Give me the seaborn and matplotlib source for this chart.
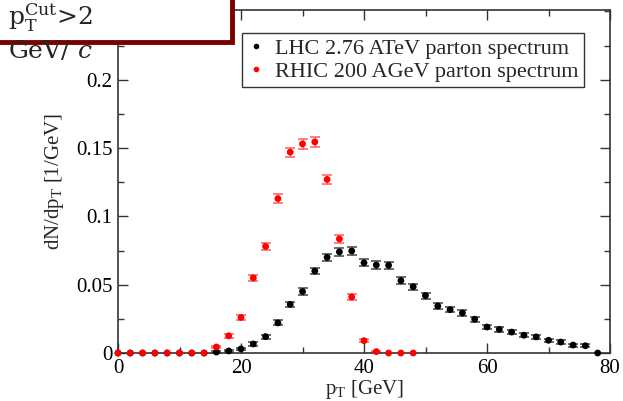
import numpy as np
import pandas as pd
import matplotlib
matplotlib.use("Agg")
import matplotlib.pyplot as plt
import seaborn as sns
from matplotlib.lines import Line2D
from matplotlib.patches import Rectangle
from matplotlib.ticker import MultipleLocator

# ---------------- data ----------------
lhc_pt = [0, 2, 4, 6, 8, 10, 12, 14, 16, 18, 20, 22, 24, 26, 28, 30, 32, 34, 36, 38,
          40, 42, 44, 46, 48, 50, 52, 54, 56, 58, 60, 62, 64, 66, 68, 70, 72, 74, 76, 78]
lhc_val = [0, 0, 0, 0, 0, 0, 0, 0, 0.0007, 0.0015, 0.003, 0.0066, 0.012, 0.022, 0.0356,
           0.045, 0.060, 0.070, 0.074, 0.0747, 0.066, 0.0644, 0.0642, 0.053, 0.0485,
           0.042, 0.0344, 0.0317, 0.0293, 0.0247, 0.019, 0.0173, 0.0153, 0.013, 0.0118,
           0.0093, 0.008, 0.0058, 0.0053, 0.0]
lhc_err = [0, 0, 0, 0, 0, 0, 0, 0, 0.0005, 0.0007, 0.001, 0.0012, 0.0015, 0.0018, 0.002,
           0.0022, 0.0025, 0.0027, 0.0028, 0.0028, 0.0027, 0.0026, 0.0026, 0.0024, 0.0023,
           0.0022, 0.002, 0.002, 0.0019, 0.0018, 0.0016, 0.0016, 0.0015, 0.0014, 0.0014,
           0.0013, 0.0012, 0.0011, 0.001, 0.0]

rhic_pt = [0, 2, 4, 6, 8, 10, 12, 14, 16, 18, 20, 22, 24, 26, 28, 30, 32, 34, 36, 38,
           40, 42, 44, 46, 48]
rhic_val = [0, 0, 0, 0, 0, 0, 0, 0, 0.0044, 0.0126, 0.026, 0.055, 0.078, 0.113, 0.147,
            0.153, 0.1545, 0.127, 0.0835, 0.041, 0.009, 0.001, 0, 0, 0]
rhic_err = [0, 0, 0, 0, 0, 0, 0, 0, 0.001, 0.0015, 0.0018, 0.002, 0.0025, 0.003, 0.0033,
            0.0035, 0.0035, 0.0032, 0.0028, 0.002, 0.0012, 0.0004, 0, 0, 0]

series_labels = ["LHC 2.76 ATeV parton spectrum", "RHIC 200 AGeV parton spectrum"]
series_colors = ["#000000", "#ff0000"]
err_colors = ["#444444", "#ff5c5c"]
x_ticks = [0, 20, 40, 60, 80]
y_ticks = [0, 0.05, 0.1, 0.15, 0.2]
y_ticklabels = ["0", "0.05", "0.1", "0.15", "0.2"]

df = pd.concat([
    pd.DataFrame({"pt": lhc_pt, "val": lhc_val, "err": lhc_err, "series": series_labels[0]}),
    pd.DataFrame({"pt": rhic_pt, "val": rhic_val, "err": rhic_err, "series": series_labels[1]}),
], ignore_index=True)

# ---------------- style ----------------
sns.set_theme(style="ticks")
plt.rcParams.update({
    "font.family": ["Liberation Serif", "DejaVu Serif"],
    "mathtext.fontset": "custom",
    "mathtext.rm": "Liberation Serif",
    "mathtext.it": "DejaVu Serif:italic",
    "mathtext.default": "regular",
})

W, H = 623, 401
fig = plt.figure(figsize=(W / 100, H / 100), dpi=100)
fig.patch.set_facecolor("white")
ax = fig.add_axes([118 / W, 1 - 353 / H, 492 / W, 343 / H])
ax.set_facecolor("white")

# error bars
for lab, ec in zip(series_labels, err_colors):
    sub = df[df["series"] == lab]
    mask = sub["err"] > 0
    ax.errorbar(sub["pt"][mask], sub["val"][mask], yerr=sub["err"][mask], fmt="none",
                ecolor=ec, elinewidth=1.0, capsize=3.4, capthick=1.1, zorder=2)

sns.scatterplot(data=df, x="pt", y="val", hue="series",
                palette=dict(zip(series_labels, series_colors)),
                s=24, linewidth=0, edgecolor="none", legend=False, ax=ax, zorder=3,
                clip_on=False)

ax.set_xlim(0, 80)
ax.set_ylim(0, 0.251)
ax.set_xticks(x_ticks)
ax.set_yticks(y_ticks)
ax.set_yticklabels(y_ticklabels)
ax.xaxis.set_minor_locator(MultipleLocator(10))
ax.yaxis.set_minor_locator(MultipleLocator(0.025))
ax.tick_params(which="both", direction="in", top=True, right=True, color="#333333",
               width=1.0, labelsize=15, labelcolor="black")
ax.tick_params(which="major", length=7, pad=4)
ax.tick_params(which="minor", length=4)
for sp in ax.spines.values():
    sp.set_color("#333333")
    sp.set_linewidth(1.2)

ax.set_xlabel("p$_T$ [GeV]", fontsize=15, labelpad=0)
ax.set_ylabel("dN/dp$_T$ [1/GeV]", fontsize=15, labelpad=7)

handles = [Line2D([], [], ls="none", marker="o", ms=3, color=c) for c in series_colors]
leg = ax.legend(handles, series_labels, loc="upper left",
                bbox_to_anchor=((242 - 118) / 492, (353 - 33) / 343), borderaxespad=0,
                frameon=True, fancybox=False, fontsize=16, handlelength=0.8,
                handletextpad=0.45, borderpad=0.25, labelspacing=0.1)
leg.get_frame().set_edgecolor("#333333")
leg.get_frame().set_linewidth(1.0)
leg.get_frame().set_alpha(1)

# annotation box at top-left
rect = Rectangle((-0.02, 1 - 42 / H), 232 / W + 0.02, 42 / H + 0.05,
                 transform=fig.transFigure, facecolor="white", edgecolor="#7a0000",
                 linewidth=3.5, zorder=10, clip_on=False)
fig.add_artist(rect)
fig.text(8 / W, 1 - 25 / H, r"$p_T^{Cut}$>2", fontsize=18, va="baseline", ha="left",
         family="DejaVu Serif", zorder=11)
fig.text(8 / W, 1 - 58 / H, r"GeV/ $\mathit{c}$", fontsize=18, va="baseline", ha="left",
         family="DejaVu Serif", zorder=11)

fig.savefig("out.png", dpi=100)
